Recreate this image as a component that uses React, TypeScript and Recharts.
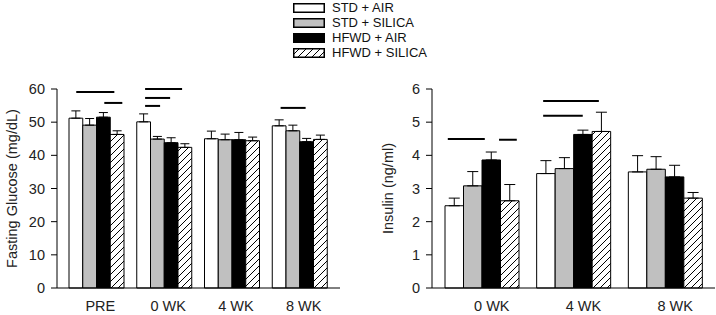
import React from 'react'
import { BarChart, Bar, XAxis, YAxis, ErrorBar, ReferenceLine } from 'recharts'

// fasting glucose (mg/dL), mean and SE per group
const glucoseWeeks = ['PRE', '0 WK', '4 WK', '8 WK']
const glucoseStdAir = [51.2, 50.1, 45.0, 48.9]
const glucoseStdSilica = [49.1, 44.9, 44.7, 47.4]
const glucoseHfwdAir = [51.5, 43.8, 44.7, 44.1]
const glucoseHfwdSilica = [46.3, 42.4, 44.4, 44.8]
const glucoseStdAirSe = [2.2, 2.4, 2.3, 1.8]
const glucoseStdSilicaSe = [2.0, 0.8, 1.7, 1.7]
const glucoseHfwdAirSe = [1.4, 1.5, 2.2, 1.0]
const glucoseHfwdSilicaSe = [1.1, 1.1, 1.1, 1.3]
const glucoseTicks = [0, 10, 20, 30, 40, 50, 60]

// insulin (ng/ml)
const insulinWeeks = ['0 WK', '4 WK', '8 WK']
const insulinStdAir = [2.48, 3.45, 3.5]
const insulinStdSilica = [3.08, 3.6, 3.58]
const insulinHfwdAir = [3.86, 4.63, 3.35]
const insulinHfwdSilica = [2.63, 4.72, 2.71]
const insulinStdAirSe = [0.23, 0.39, 0.49]
const insulinStdSilicaSe = [0.43, 0.33, 0.38]
const insulinHfwdAirSe = [0.24, 0.13, 0.35]
const insulinHfwdSilicaSe = [0.49, 0.58, 0.17]
const insulinTicks = [0, 1, 2, 3, 4, 5, 6]

// significance bars: week, from/to bar index (0..3, fractional), level in data units
const glucoseSig = [
  { week: 'PRE', from: 0, to: 2.77, level: 59.1 },
  { week: 'PRE', from: 2.04, to: 3.35, level: 55.8 },
  { week: '0 WK', from: 0.08, to: 2.77, level: 60 },
  { week: '0 WK', from: 0.08, to: 1.9, level: 57.3 },
  { week: '0 WK', from: 0.08, to: 1.17, level: 54.9 },
  { week: '8 WK', from: 0.08, to: 1.9, level: 54.3 },
]
const insulinSig = [
  { week: '0 WK', from: -0.34, to: 1.66, level: 4.49 },
  { week: '0 WK', from: 2.43, to: 3.39, level: 4.47 },
  { week: '4 WK', from: -0.14, to: 2.87, level: 5.64 },
  { week: '4 WK', from: -0.14, to: 2.0, level: 5.19 },
]

const seriesNames = ['STD + AIR', 'STD + SILICA', 'HFWD + AIR', 'HFWD + SILICA']
const fills = ['#ffffff', '#c0c0c0', '#000000', 'url(#hatch)']

const FONT = '"Liberation Sans", Arial, sans-serif'
const PLOT_W = 283

const buildRows = (weeks: string[], vals: number[][], ses: number[][]) =>
  weeks.map((w, i) => {
    const row: any = { week: w }
    vals.forEach((v, k) => {
      row['s' + k] = v[i]
      row['e' + k] = [0, ses[k][i]]
    })
    return row
  })

const glucoseRows = buildRows(
  glucoseWeeks,
  [glucoseStdAir, glucoseStdSilica, glucoseHfwdAir, glucoseHfwdSilica],
  [glucoseStdAirSe, glucoseStdSilicaSe, glucoseHfwdAirSe, glucoseHfwdSilicaSe]
)
const insulinRows = buildRows(
  insulinWeeks,
  [insulinStdAir, insulinStdSilica, insulinHfwdAir, insulinHfwdSilica],
  [insulinStdAirSe, insulinStdSilicaSe, insulinHfwdAirSe, insulinHfwdSilicaSe]
)

type Sig = { week: string; from: number; to: number; level: number }
type PanelProps = {
  rows: any[]
  ticks: number[]
  sig: Sig[]
  label: string
  labelX: number
  yWidth: number
  width: number
  pad: number
  barSize: number
  capW: number
  tickDx: number
}

const Panel: React.FC<PanelProps> = ({ rows, ticks, sig, label, labelX, yWidth, width, pad, barSize, capW, tickDx }) => {
  // the segment lands on the band centre; shift the ends by bar widths from there
  const sigShape = (s: Sig) => (p: any) => (
    <line
      x1={p.x1 + (s.from - 1.5) * barSize}
      x2={p.x1 + (s.to - 1.5) * barSize}
      y1={p.y1}
      y2={p.y1}
      stroke="#000"
      strokeWidth={2}
    />
  )
  return (
    <BarChart
      width={width}
      height={315}
      data={rows}
      margin={{ top: 89, right: width - yWidth - PLOT_W, bottom: 7, left: 0 }}
      barGap={0}
    >
      <XAxis
        dataKey="week"
        axisLine={{ stroke: '#000' }}
        tickLine={false}
        tickSize={0}
        tickMargin={13}
        height={20}
        padding={{ left: pad, right: pad }}
        tick={{ fontSize: 14.5, fill: '#222', fontFamily: FONT, dx: tickDx }}
      />
      <YAxis
        width={yWidth}
        domain={[ticks[0], ticks[ticks.length - 1]]}
        ticks={ticks}
        interval={0}
        axisLine={{ stroke: '#000' }}
        tickLine={{ stroke: '#000' }}
        tickSize={6}
        tickMargin={6}
        tick={{ fontSize: 14.5, fill: '#222', fontFamily: FONT }}
        label={{
          value: label,
          angle: -90,
          position: 'insideLeft',
          offset: labelX,
          style: { textAnchor: 'middle', fontSize: 14.5, fill: '#222', fontFamily: FONT },
        }}
      />
      {fills.map((f, k) => (
        <Bar key={k} dataKey={'s' + k} fill={f} stroke="#000" strokeWidth={1} barSize={barSize} isAnimationActive={false}>
          <ErrorBar dataKey={'e' + k} width={capW} stroke="#000" strokeWidth={1} direction="y" />
        </Bar>
      ))}
      {sig.map((s, i) => (
        <ReferenceLine
          key={i}
          ifOverflow="visible"
          segment={[
            { x: s.week, y: s.level },
            { x: s.week, y: s.level },
          ]}
          shape={sigShape(s)}
        />
      ))}
    </BarChart>
  )
}

const Legend: React.FC = () => (
  <div style={{ position: 'absolute', left: 293, top: 0, fontFamily: FONT, fontSize: 13, color: '#111' }}>
    {seriesNames.map((name, k) => (
      <div key={name} style={{ display: 'flex', alignItems: 'center', height: 15, lineHeight: '15px' }}>
        <svg width={32} height={10} style={{ marginRight: 7 }}>
          <rect x={0.75} y={0.75} width={30.5} height={8.5} fill={fills[k]} stroke="#000" strokeWidth={1.5} />
        </svg>
        <span>{name}</span>
      </div>
    ))}
  </div>
)

export default function App() {
  return (
    <div style={{ position: 'absolute', left: 0, top: 0, width: 716, height: 315, background: '#fff' }}>
      <svg width={0} height={0} style={{ position: 'absolute' }}>
        <defs>
          <pattern id="hatch" patternUnits="userSpaceOnUse" width={7} height={7}>
            <rect width={7} height={7} fill="#fff" />
            <path d="M-1,1 l2,-2 M0,7 l7,-7 M6,8 l2,-2" stroke="#000" strokeWidth={1} />
          </pattern>
        </defs>
      </svg>
      <Legend />
      <div style={{ position: 'absolute', left: 0, top: 0 }}>
        <Panel
          rows={glucoseRows}
          ticks={glucoseTicks}
          sig={glucoseSig}
          label="Fasting Glucose (mg/dL)"
          labelX={12}
          yWidth={57}
          width={350}
          pad={6}
          barSize={13.75}
          capW={4.5}
          tickDx={3.5}
        />
      </div>
      <div style={{ position: 'absolute', left: 370, top: 0 }}>
        <Panel
          rows={insulinRows}
          ticks={insulinTicks}
          sig={insulinSig}
          label="Insulin (ng/ml)"
          labelX={18}
          yWidth={62}
          width={346}
          pad={4}
          barSize={18.5}
          capW={5.5}
          tickDx={10}
        />
      </div>
    </div>
  )
}
